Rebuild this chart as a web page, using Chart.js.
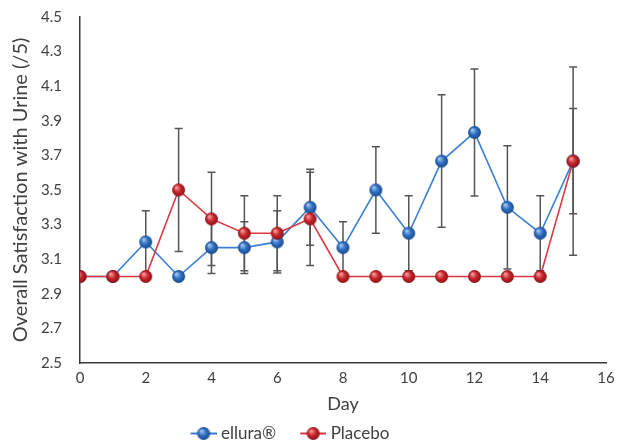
<!DOCTYPE html>
<html lang="en">
<head>
    <meta charset="UTF-8">
    <title>Overall Satisfaction with Urine</title>
    <script src="https://cdn.jsdelivr.net/npm/chart.js"></script>
    <style>
        body { margin: 0; background: #fff; }
        #wrap { width: 617px; height: 447px; }
    </style>
</head>
<body>
    <div id="wrap">
        <canvas id="satChart" width="617" height="447"></canvas>
    </div>

    <script>
        // jours et valeurs
        const days = [0, 1, 2, 3, 4, 5, 6, 7, 8, 9, 10, 11, 12, 13, 14, 15];
        const elluraValues  = [3.0, 3.0, 3.2, 3.0, 3.167, 3.167, 3.2, 3.4, 3.167, 3.5, 3.25, 3.667, 3.833, 3.4, 3.25, 3.667];
        const elluraErrors  = [0, 0, 0.18, 0, 0.15, 0.15, 0.18, 0.22, 0.15, 0.25, 0.217, 0.383, 0.367, 0.356, 0.217, 0.544];
        const placeboValues = [3.0, 3.0, 3.0, 3.5, 3.333, 3.25, 3.25, 3.333, 3.0, 3.0, 3.0, 3.0, 3.0, 3.0, 3.0, 3.667];
        const placeboErrors = [0, 0, 0, 0.355, 0.27, 0.217, 0.217, 0.27, 0, 0, 0, 0, 0, 0, 0, 0.304];
        const seriesLabels = ['ellura®', 'Placebo'];

        const FONT = "Lato, 'Open Sans', sans-serif";
        const TXT = '#404040';

        // petite bille avec dégradé pour les points
        function makeBall(light, mid, dark, r) {
            const c = document.createElement('canvas');
            c.width = r * 2 + 2;
            c.height = r * 2 + 2;
            const g = c.getContext('2d');
            const cx = r + 1, cy = r + 1;
            const grad = g.createRadialGradient(cx - r * 0.35, cy - r * 0.4, r * 0.1, cx, cy, r);
            grad.addColorStop(0, light);
            grad.addColorStop(0.5, mid);
            grad.addColorStop(1, dark);
            g.fillStyle = grad;
            g.beginPath();
            g.arc(cx, cy, r, 0, Math.PI * 2);
            g.fill();
            return c;
        }

        // icône de légende : trait + bille, calée à droite (marge transparente à gauche)
        const LEG_BOX = 36;
        function makeLegendIcon(lineColor, ball) {
            const c = document.createElement('canvas');
            c.width = LEG_BOX + 8;
            c.height = ball.height;
            const g = c.getContext('2d');
            const x0 = c.width - 26;
            g.strokeStyle = lineColor;
            g.lineWidth = 2;
            g.beginPath();
            g.moveTo(x0, c.height / 2);
            g.lineTo(c.width, c.height / 2);
            g.stroke();
            g.drawImage(ball, x0 + 13 - ball.width / 2, 0);
            return c;
        }

        const blueBall = makeBall('#9cc4f0', '#2f6fc2', '#1a4a8a', 6.5);
        const redBall = makeBall('#f59a9a', '#c9262d', '#8a1216', 6.5);
        const blueLine = '#3c7fd2';
        const redLine = '#d8383f';

        const toPoints = (vals) => days.map((d, i) => ({ x: d, y: vals[i] }));

        // barres d'erreur dessinées avec les échelles du graphique
        const errorBars = {
            id: 'errorBars',
            afterLayout(chart) {
                // légende un peu décalée à gauche comme sur l'original
                chart.legend.left -= 20;
                chart.legend.right -= 20;
            },
            beforeDatasetsDraw(chart) {
                const ctx = chart.ctx;
                const xs = chart.scales.x, ys = chart.scales.y;
                const sets = [placeboErrors, elluraErrors];
                const vals = [placeboValues, elluraValues];
                ctx.save();
                ctx.strokeStyle = '#555555';
                ctx.lineWidth = 1.5;
                sets.forEach((errs, s) => {
                    errs.forEach((e, i) => {
                        if (!e) return;
                        const px = xs.getPixelForValue(days[i]);
                        const top = ys.getPixelForValue(vals[s][i] + e);
                        const bot = ys.getPixelForValue(vals[s][i] - e);
                        ctx.beginPath();
                        ctx.moveTo(px, top);
                        ctx.lineTo(px, bot);
                        ctx.moveTo(px - 4, top);
                        ctx.lineTo(px + 4, top);
                        ctx.moveTo(px - 4, bot);
                        ctx.lineTo(px + 4, bot);
                        ctx.stroke();
                    });
                });
                ctx.restore();
            }
        };

        const ctx = document.getElementById('satChart').getContext('2d');
        new Chart(ctx, {
            type: 'line',
            data: {
                datasets: [
                    {
                        label: seriesLabels[0],
                        data: toPoints(elluraValues),
                        borderColor: blueLine,
                        borderWidth: 1.6,
                        pointStyle: blueBall,
                        legendIcon: makeLegendIcon(blueLine, blueBall),
                        order: 1
                    },
                    {
                        label: seriesLabels[1],
                        data: toPoints(placeboValues),
                        borderColor: redLine,
                        borderWidth: 1.6,
                        pointStyle: redBall,
                        legendIcon: makeLegendIcon(redLine, redBall),
                        order: 0
                    }
                ]
            },
            options: {
                responsive: false,
                animation: false,
                layout: { padding: { left: 0, right: 11, top: 17, bottom: -5 } },
                plugins: {
                    tooltip: { enabled: false },
                    legend: {
                        position: 'bottom',
                        labels: {
                            usePointStyle: true,
                            pointStyleWidth: LEG_BOX,
                            padding: 10,
                            color: TXT,
                            font: { family: FONT, size: 17 },
                            generateLabels(chart) {
                                return chart.data.datasets.map((ds, i) => ({
                                    text: ds.label,
                                    pointStyle: ds.legendIcon,
                                    fillStyle: ds.borderColor,
                                    strokeStyle: ds.borderColor,
                                    lineWidth: 0,
                                    fontColor: TXT,
                                    hidden: false,
                                    datasetIndex: i
                                }));
                            }
                        }
                    }
                },
                scales: {
                    x: {
                        type: 'linear',
                        min: 0,
                        max: 16,
                        grid: { display: false, drawTicks: false },
                        border: { display: true, color: '#3a3a3a', width: 1.5 },
                        ticks: {
                            stepSize: 2,
                            padding: 6,
                            color: TXT,
                            font: { family: FONT, size: 15 }
                        },
                        title: {
                            display: true,
                            text: 'Day',
                            color: TXT,
                            padding: { top: 2, bottom: 0 },
                            font: { family: FONT, size: 18 }
                        },
                        afterFit(scale) {
                            scale.height = 52;
                            scale.paddingLeft = 0;
                            scale.paddingRight = 0;
                        }
                    },
                    y: {
                        min: 2.5,
                        max: 4.5,
                        grid: { display: false, drawTicks: false },
                        border: { display: true, color: '#3a3a3a', width: 1.5 },
                        ticks: {
                            stepSize: 0.2,
                            padding: 18,
                            color: TXT,
                            font: { family: FONT, size: 15 },
                            callback: (v) => v.toFixed(1)
                        },
                        title: {
                            display: true,
                            text: 'Overall Satisfaction with Urine (/5)',
                            color: TXT,
                            padding: { top: 9, bottom: 0 },
                            font: { family: FONT, size: 20 }
                        },
                        afterFit(scale) {
                            scale.width = 80;
                            scale.paddingTop = 0;
                            scale.paddingBottom = 0;
                        }
                    }
                }
            },
            plugins: [errorBars]
        });
    </script>
</body>
</html>
